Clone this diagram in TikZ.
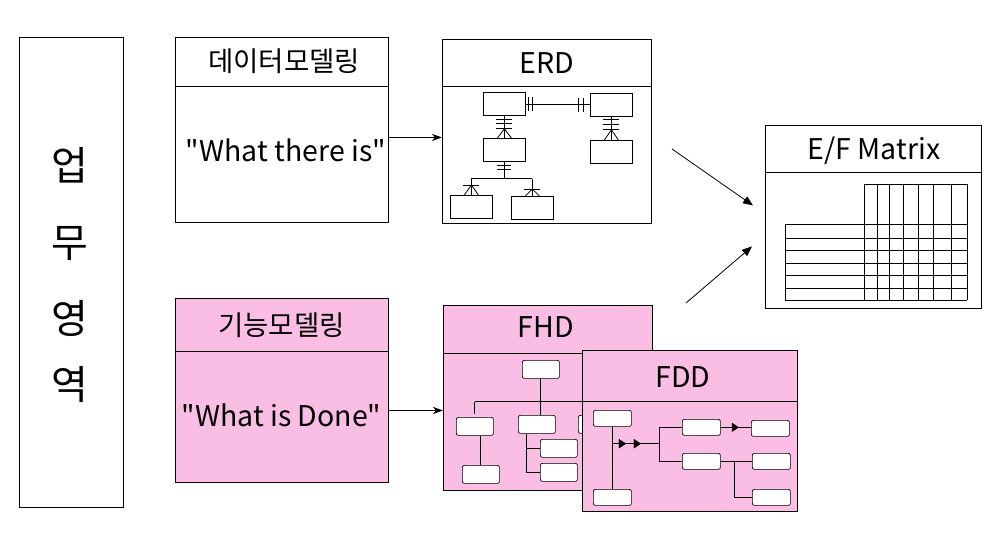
\documentclass[tikz,border=0pt]{standalone}
\usepackage{fontspec}
\setmainfont{Noto Sans CJK KR}
\newfontfamily\nfont{Noto Sans CJK KR}
\usetikzlibrary{arrows.meta,decorations.markings,calc}
\definecolor{pinkfill}{RGB}{250,190,228}
\begin{document}
\begin{tikzpicture}[x=1pt,y=-1pt,line width=0.9pt,
  box/.style={draw,anchor=north west,inner sep=0pt},
  ent/.style={draw,anchor=north west,inner sep=0pt,minimum width=42pt,minimum height=23pt,line width=0.8pt},
  fnode/.style={draw,fill=white,anchor=north west,inner sep=0pt,rounded corners=2pt,minimum width=37pt,minimum height=18pt,line width=0.7pt},
  dnode/.style={fnode,minimum width=38pt,minimum height=16pt},
  ttl/.style={font=\nfont\fontsize{27.5}{31}\selectfont},
  body/.style={font=\nfont\fontsize{28.5}{32}\selectfont},
  big/.style={font=\nfont\fontsize{40}{44}\selectfont},
  arr/.style={-{Stealth[length=10pt,width=7pt,inset=3pt]},line width=0.8pt},
  tri/.style={-{Triangle[length=10pt,width=8pt]},line width=0.8pt},
  thin/.style={line width=0.8pt},
  midtri/.style={postaction={decorate},decoration={markings,mark=at position #1 with {\arrow{Triangle[length=7pt,width=9pt]}}}}
]
\useasboundingbox (0,0) rectangle (1000,542);

% left area box
\node[box,minimum width=104pt,minimum height=470pt] (area) at (19,37) {};
\node[big] (c1) at (70,165) {업};
\node[big] (c2) at (70,243) {무};
\node[big] (c3) at (70,318) {영};
\node[big] (c4) at (70,385) {역};

% data modelling
\node[box,minimum width=213pt,minimum height=185pt] (dm) at (175,37) {};
\draw (175,86) -- (388,86);
\node[ttl] (dmt) at (284,61) {데이터모델링};
\node[body] (dmb) at (286,150) {"What there is"};

% function modelling
\node[box,fill=pinkfill,minimum width=213pt,minimum height=184pt] (fm) at (175,298) {};
\draw (175,351) -- (388,351);
\node[ttl] (fmt) at (281.5,325) {기능모델링};
\node[body] (fmb) at (281.5,415) {"What is Done"};

% ERD
\node[box,minimum width=209pt,minimum height=184pt] (erd) at (442,39) {};
\draw (442,86) -- (651,86);
\node[body] (erdt) at (547,63) {ERD};
\node[ent] (e1) at (483,92) {};
\node[ent] (e2) at (590,93) {};
\node[ent] (e3) at (483,138) {};
\node[ent] (e4) at (590,140) {};
\node[ent] (e5) at (450,195) {};
\node[ent] (e6) at (511,196) {};
\begin{scope}[thin]
% e1 - e2
\draw (e1.east) -- (e1.east -| e2.west);
\draw ($(e1.east)+(3,-7)$) -- +(0,14);
\draw ($(e1.east)+(7,-7)$) -- +(0,14);
\draw ($(e2.west)+(-12,-7)$) -- +(0,14);
\draw ($(e2.west)+(-7,-7)$) -- +(0,14);
% e1 - e3
\draw (e1.south) -- (e1.south |- e3.north);
\draw ($(e1.south)+(-8,4)$) -- +(16,0);
\draw ($(e1.south)+(-8,8)$) -- +(16,0);
\draw ($(e1.south)+(-8,13)$) -- +(16,0);
\draw ($(e1.south |- e3.north)+(-7,0)$) -- ($(e1.south)+(0,13)$) -- ($(e1.south |- e3.north)+(7,0)$);
% e2 - e4
\draw (e2.south) -- (e2.south |- e4.north);
\draw ($(e2.south)+(-8,3)$) -- +(16,0);
\draw ($(e2.south)+(-8,8)$) -- +(16,0);
\draw ($(e2.south)+(-8,13)$) -- +(16,0);
\draw ($(e2.south |- e4.north)+(-7,0)$) -- ($(e2.south)+(0,13)$) -- ($(e2.south |- e4.north)+(7,0)$);
% e3 - e5, e6
\draw (e3.south) -- ++(0,17) coordinate (ej);
\draw ($(e3.south)+(-7,4)$) -- +(14,0);
\draw ($(e3.south)+(-7,8)$) -- +(14,0);
\draw (ej -| e5.north) -- (ej -| e6.north);
\draw (ej -| e5.north) -- (e5.north);
\draw (ej -| e6.north) -- (e6.north);
\draw ($(e5.north)+(-8,-10)$) -- +(16,0);
\draw ($(e5.north)+(-7,0)$) -- ($(e5.north)+(0,-10)$) -- ($(e5.north)+(7,0)$);
\draw ($(e6.north)+(-8,-7)$) -- +(16,0);
\draw ($(e6.north)+(-7,0)$) -- ($(e6.north)+(0,-7)$) -- ($(e6.north)+(7,0)$);
\end{scope}

% E/F matrix
\node[box,minimum width=216pt,minimum height=183pt] (mat) at (765,125) {};
\draw (765,172) -- (981,172);
\node[body] (matt) at (874,151) {E/F Matrix};
\begin{scope}[thin]
\foreach \x in {864,877,889,903,918,933,951,967} \draw (\x,184) -- (\x,300);
\draw (864,184) -- (967,184);
\foreach \y in {224,238,250,263,275,288,300} \draw (785,\y) -- (967,\y);
\draw (785,224) -- (785,300);
\end{scope}

% FHD
\node[box,fill=pinkfill,minimum width=209pt,minimum height=185pt] (fhd) at (443,305) {};
\draw (443,353) -- (652,353);
\node[body] (fhdt) at (546,327) {FHD};
\node[fnode] (h0) at (522,360) {};
\node[fnode] (h1) at (456,417) {};
\node[fnode] (h2) at (518,415) {};
\node[fnode] (h3) at (578,415) {};
\node[fnode] (h11) at (462,465) {};
\node[fnode] (h21) at (540,439) {};
\node[fnode] (h22) at (540,463) {};
\begin{scope}[thin]
\draw (h0.south) -- ++(0,23) coordinate (hb);
\draw (hb) -- (hb |- h2.north);
\draw (hb -| h1.north) -- (hb -| h3.north) -- (h3.north);
\draw (hb -| h1.north) -- ($(h1.north)+(0,-3)$);
\draw (h11.north) -- (h11.north |- h1.south);
\draw ($(h2.south west)+(8,0)$) coordinate (hc) -- (hc |- h22.west) -- (h22.west);
\draw (hc |- h21.west) -- (h21.west);
\end{scope}

% FDD
\node[box,fill=pinkfill,minimum width=215pt,minimum height=161pt] (fdd) at (582,350) {};
\draw (582,401) -- (797,401);
\node[body] (fddt) at (683,377) {FDD};
\node[dnode] (d1) at (593,410) {};
\node[dnode] (d2) at (593,489) {};
\node[dnode] (d3) at (682,419) {};
\node[dnode] (d4) at (682,453) {};
\node[dnode] (d5) at (751,420) {};
\node[dnode] (d6) at (752,453) {};
\node[dnode] (d7) at (752,489) {};
\begin{scope}[thin]
\draw (d1.south) -- (d2.north);
\coordinate (fj) at ($(d1.south)+(0,17)$);
\coordinate (fk) at ($(fj -| d3.west)+(-23,0)$);
\draw[midtri=0.29,midtri=0.61] (fj) -- (fk);
\draw (fk |- d3.west) -- (d3.west);
\draw (fk |- d3.west) -- (fk |- d4.west) -- (d4.west);
\draw[midtri=0.6] (d3.east) -- (d3.east -| d5.west);
\draw (d4.east) -- (d4.east -| d6.west);
\coordinate (fq) at ($(d4.east)+(14,0)$);
\draw (fq) -- (fq |- d7.west) -- (d7.west);
\end{scope}

% arrows
\coordinate (p1) at ($(dm.east)+(0,7.5)$);
\draw[arr] (p1) -- (p1 -| erd.west);
\coordinate (p2) at ($(fm.east)+(0,20)$);
\draw[arr] (p2) -- (p2 -| fhd.west);
\coordinate (m1s) at (672,149);
\coordinate (m2s) at (686,303);
\draw[tri] (m1s) -- ($(mat.west)+(-12,-11.5)$);
\draw[tri] (m2s) -- ($(mat.west)+(-13,29.5)$);
\end{tikzpicture}
\end{document}
